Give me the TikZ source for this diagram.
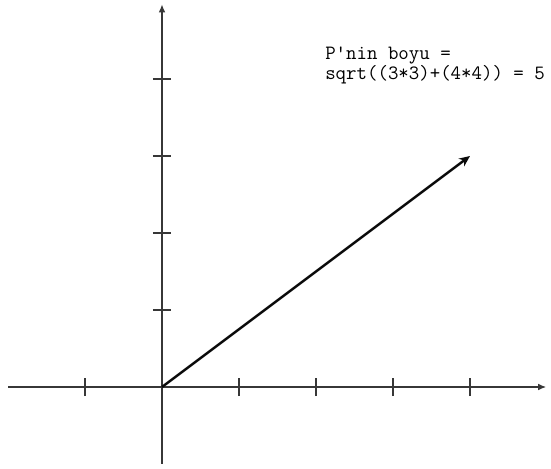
\documentclass[tikz,border=0pt]{standalone}
\usepackage{fontspec}
\usepackage{xcolor}
\definecolor{axisgray}{RGB}{55,55,55}
\definecolor{vecblack}{RGB}{10,10,10}
\usetikzlibrary{arrows.meta,positioning}

\begin{document}
\begin{tikzpicture}[
  x=2cm,y=2cm,
  axisline/.style={line width=1.1pt,draw=axisgray,-{Latex[length=6pt,width=5pt]}},
  tickmark/.style={line width=1.1pt,draw=axisgray},
  vecline/.style={line width=1.8pt,draw=vecblack,-{Stealth[length=8pt,width=7pt]}},
  every node/.style={font=\ttfamily\fontsize{15}{11.8}\selectfont},
]
  \useasboundingbox (-2.104,-1.052) rectangle (5.052,5.026);

  % Axes
  \coordinate (o) at (0,0);
  \coordinate (xl) at (-2,0);
  \coordinate (xr) at (4.99,0);
  \coordinate (yb) at (0,-1);
  \coordinate (yt) at (0,4.97);
  \draw[axisline] (xl) -- (xr);
  \draw[axisline] (yb) -- (yt);

  % Ticks
  \foreach \i in {-1,1,2,3,4}
    \draw[tickmark] (\i,-0.117) -- (\i,0.117);
  \foreach \j in {1,...,4}
    \draw[tickmark] (-0.117,\j) -- (0.117,\j);

  % Vector P
  \coordinate (p) at (4,3);
  \draw[vecline] (o) -- (p);

  % Length
  \node[anchor=north west,inner sep=0pt,align=left] (len) at (2.117,4.416)
    {P'nin boyu =\\sqrt((3*3)+(4*4)) = 5};
\end{tikzpicture}
\end{document}
